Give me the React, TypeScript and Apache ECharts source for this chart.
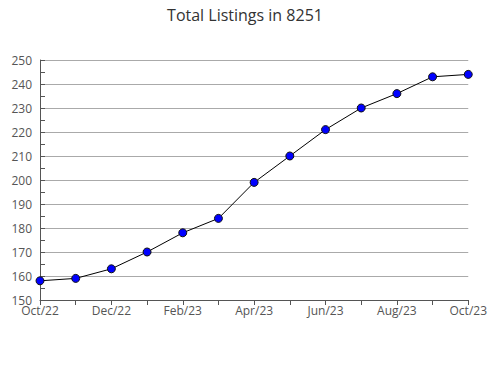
import React, { useEffect, useRef } from "react";
import * as echarts from "echarts";

const categories = ["Oct/22","Nov/22","Dec/22","Jan/23","Feb/23","Mar/23","Apr/23","May/23","Jun/23","Jul/23","Aug/23","Sep/23","Oct/23"];
const listings = [158, 159, 163, 170, 178, 184, 199, 210, 221, 230, 236, 243, 244];
const yMin = 150;
const yMax = 250;
const yStep = 10;

export default function App() {
  const ref = useRef<HTMLDivElement>(null);
  useEffect(() => {
    if (!ref.current) return;
    const chart = echarts.init(ref.current, null, { renderer: "svg" });
    chart.setOption({
      animation: false,
      title: {
        text: "Total Listings in 8251",
        left: "center",
        top: 2,
        textStyle: { fontFamily: "Open Sans", fontWeight: "normal", fontSize: 16, color: "#333" },
      },
      grid: { left: 40, right: 19, top: 60, bottom: 80 },
      xAxis: {
        type: "category",
        data: categories,
        boundaryGap: false,
        axisLine: { lineStyle: { color: "#555", width: 1 } },
        axisTick: { show: true, length: 5, interval: 0, lineStyle: { color: "#555" } },
        axisLabel: { interval: 1, color: "#555", fontFamily: "Open Sans", fontSize: 12, margin: 4 },
        splitLine: { show: false },
      },
      yAxis: {
        type: "value",
        min: yMin,
        max: yMax,
        interval: yStep,
        axisLine: { show: true, lineStyle: { color: "#555" } },
        axisTick: { show: true, inside: true, length: 5, lineStyle: { color: "#555" } },
        minorTick: { show: true, splitNumber: 2, length: 5, lineStyle: { color: "#555" } },
        axisLabel: { color: "#555", fontFamily: "Open Sans", fontSize: 12, margin: 8 },
        splitLine: { show: true, lineStyle: { color: "#aaa", width: 1 } },
      },
      series: [
        {
          type: "line",
          data: listings,
          symbol: "circle",
          symbolSize: 8,
          lineStyle: { color: "#000", width: 1 },
          itemStyle: { color: "#0000ff", borderColor: "#111", borderWidth: 1 },
        },
      ],
    });
    return () => chart.dispose();
  }, []);
  return <div ref={ref} style={{ width: 490, height: 380, position: "absolute", left: 0, top: 0 }} />;
}
